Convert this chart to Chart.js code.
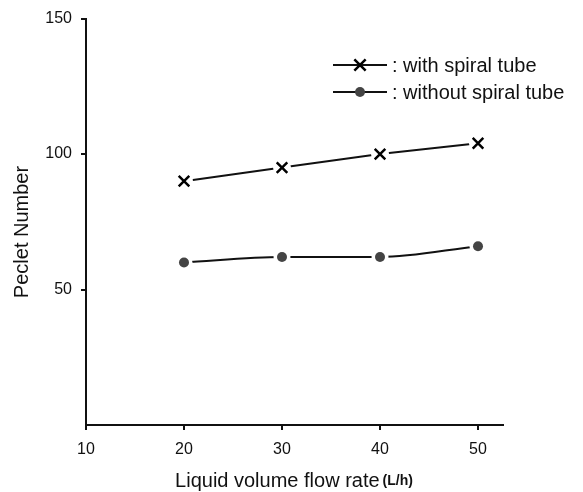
<!DOCTYPE html>
<html>
<head>
<meta charset="utf-8">
<script src="https://cdn.jsdelivr.net/npm/chart.js@4.4.1/dist/chart.umd.min.js"></script>
<style>
html,body{margin:0;padding:0;background:#fff;}
#wrap{width:583px;height:492px;position:relative;}
</style>
</head>
<body>
<div id="wrap"><canvas id="c" width="583" height="492"></canvas></div>
<script>
const flowRates = [20, 30, 40, 50];
const withSpiral = [90, 95, 100, 104];
const withoutSpiral = [60, 62, 62, 66];
const xTicks = [10, 20, 30, 40, 50];
const yTicks = [50, 100, 150];
const seriesNames = [': with spiral tube', ': without spiral tube'];

const FONT = "'Liberation Sans', Arial, Helvetica, sans-serif";
const INK = '#111';

function pts(vals){ return flowRates.map((x,i)=>({x:x,y:vals[i]})); }

const textPlugin = {
  id:'textPlugin',
  afterDraw(chart){
    const ctx = chart.ctx;
    ctx.save();
    ctx.fillStyle = INK;
    // y title
    ctx.font = '20px ' + FONT;
    ctx.translate(22, 232);
    ctx.rotate(-Math.PI/2);
    ctx.textAlign = 'center';
    ctx.textBaseline = 'middle';
    ctx.fillText('Peclet Number', 0, 0);
    ctx.restore();
    // x title
    ctx.save();
    ctx.fillStyle = INK;
    ctx.textBaseline = 'alphabetic';
    ctx.textAlign = 'left';
    const t1 = 'Liquid volume flow rate';
    const t2 = '(L/h)';
    ctx.font = '20px ' + FONT;
    const w1 = ctx.measureText(t1).width;
    ctx.font = 'bold 14px ' + FONT;
    const w2 = ctx.measureText(t2).width;
    const gap = 3;
    const cx = 294;
    let x0 = cx - (w1+gap+w2)/2;
    ctx.font = '20px ' + FONT;
    ctx.fillText(t1, x0, 487);
    ctx.font = 'bold 14px ' + FONT;
    ctx.fillText(t2, x0 + w1 + gap, 485);
    ctx.restore();
    // legend
    ctx.save();
    const rows = [{y:65, style:'crossRot'}, {y:92, style:'circle'}];
    rows.forEach((r,i)=>{
      ctx.strokeStyle = INK;
      ctx.lineWidth = 2;
      ctx.beginPath();
      ctx.moveTo(333, r.y); ctx.lineTo(387, r.y);
      ctx.stroke();
      if(r.style==='circle'){
        ctx.fillStyle = '#444';
        ctx.beginPath(); ctx.arc(360, r.y, 5, 0, Math.PI*2); ctx.fill();
      } else {
        ctx.strokeStyle = '#000'; ctx.lineWidth = 2.5;
        Chart.helpers.drawPoint(ctx, {pointStyle:'crossRot', radius:8, borderWidth:2.5}, 360, r.y);
      }
      ctx.fillStyle = INK;
      ctx.font = '20px ' + FONT;
      ctx.textAlign = 'left';
      ctx.textBaseline = 'middle';
      ctx.fillText(seriesNames[i], 392, r.y + 1);
    });
    ctx.restore();
  }
};

new Chart(document.getElementById('c'), {
  type:'line',
  data:{
    datasets:[
      {label:'spiral-marks', data:pts(withSpiral), showLine:false, pointStyle:'crossRot', pointRadius:7.5, pointBorderWidth:2.5, pointBorderColor:'#000', pointBackgroundColor:'#000', order:0},
      {label:'nospiral-marks', data:pts(withoutSpiral), showLine:false, pointStyle:'circle', pointRadius:5, pointBorderWidth:0, pointBackgroundColor:'#444', pointBorderColor:'#444', order:0},
      {label:'spiral-mask', data:pts(withSpiral), showLine:false, pointStyle:'circle', pointRadius:9, pointBorderWidth:0, pointBackgroundColor:'#fff', order:1},
      {label:'nospiral-mask', data:pts(withoutSpiral), showLine:false, pointStyle:'circle', pointRadius:8.5, pointBorderWidth:0, pointBackgroundColor:'#fff', order:1},
      {label:'spiral-line', data:pts(withSpiral), borderColor:INK, borderWidth:2, pointRadius:0, tension:0, order:2},
      {label:'nospiral-line', data:pts(withoutSpiral), borderColor:INK, borderWidth:2, pointRadius:0, tension:0.35, cubicInterpolationMode:'monotone', order:2}
    ]
  },
  options:{
    responsive:false,
    animation:false,
    events:[],
    layout:{padding:{left:0, right:80, top:13, bottom:0}},
    plugins:{legend:{display:false}, tooltip:{enabled:false}},
    scales:{
      x:{
        type:'linear', min:10, max:52.55,
        afterBuildTicks(s){ s.ticks = xTicks.map(v=>({value:v})); },
        afterFit(s){ s.height = 67; },
        border:{display:true, color:INK, width:2},
        grid:{display:true, drawOnChartArea:false, drawTicks:true, tickLength:5, color:INK, lineWidth:2},
        ticks:{color:INK, font:{family:FONT, size:16}, padding:10, maxRotation:0}
      },
      y:{
        type:'linear', min:0, max:150,
        afterBuildTicks(s){ s.ticks = yTicks.map(v=>({value:v})); },
        afterFit(s){ s.width = 86; },
        border:{display:true, color:INK, width:2},
        grid:{display:true, drawOnChartArea:false, drawTicks:true, tickLength:5, color:INK, lineWidth:2},
        ticks:{color:INK, font:{family:FONT, size:16}, padding:9}
      }
    }
  },
  plugins:[textPlugin]
});
</script>
</body>
</html>
